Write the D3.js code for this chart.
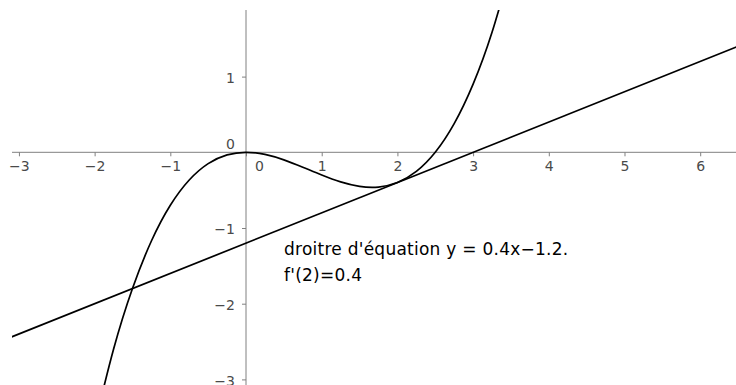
<!DOCTYPE html>
<html>
<head>
<meta charset="utf-8">
<script src="https://cdn.jsdelivr.net/npm/d3@7"></script>
<style>
  html, body { margin: 0; padding: 0; background: #fff; }
  svg { display: block; font-family: "DejaVu Sans", sans-serif; }
</style>
</head>
<body>
<div id="chart"></div>
<script>
// taille de la figure
const width = 736;
const height = 385;

// ── données ──
// courbe de f
const curveX = [-2, -1.75, -1.5, -1.25, -1, -0.75, -0.5, -0.25, 0, 0.25, 0.5, 0.75,
                1, 1.25, 1.5, 1.75, 2, 2.25, 2.5, 2.75, 3, 3.25, 3.5];
const curveY = [-3.6, -2.603, -1.8, -1.172, -0.7, -0.366, -0.15, -0.034, 0, -0.028, -0.1, -0.197,
                -0.3, -0.391, -0.45, -0.459, -0.4, -0.253, 0, 0.378, 0.9, 1.585, 2.45];
// tangente en x = 2
const tangentX = [-3.4, 6.6];
const tangentY = [-2.56, 1.44];
// graduations
const xTicks = [-3, -2, -1, 0, 1, 2, 3, 4, 5, 6];
const yTicks = [-3, -2, -1, 0, 1];
// textes
const labelLines = ["droitre d'équation y = 0.4x\u22121.2.", "f'(2)=0.4"];

const svg = d3.select("#chart")
  .append("svg")
  .attr("width", width)
  .attr("height", height);

// échelles (même unité sur les deux axes)
const x = d3.scaleLinear().domain([-3.25, 6.473]).range([0, width]);
const y = d3.scaleLinear().domain([2.012, -3.074]).range([0, height]);

const plotLeft = 12, plotTop = 10;

svg.append("clipPath").attr("id", "plot")
  .append("rect")
  .attr("x", plotLeft).attr("y", plotTop)
  .attr("width", width - plotLeft).attr("height", height - plotTop);

// ──────────── axes ─────────────
const axisColor = "#808080";
const labelColor = "#4a4a4a";

svg.append("line")
  .attr("x1", plotLeft).attr("x2", width)
  .attr("y1", y(0)).attr("y2", y(0))
  .attr("stroke", axisColor);

svg.append("line")
  .attr("x1", x(0)).attr("x2", x(0))
  .attr("y1", plotTop).attr("y2", height)
  .attr("stroke", axisColor);

const fmt = d3.format("d");

const gx = svg.append("g")
  .attr("transform", `translate(0,${y(0)})`)
  .call(d3.axisBottom(x).tickValues(xTicks).tickSize(4).tickSizeOuter(0).tickFormat(fmt));
gx.select(".domain").remove();
gx.selectAll(".tick line").attr("stroke", axisColor);
gx.selectAll(".tick text")
  .attr("fill", labelColor)
  .attr("font-size", 14)
  .attr("font-family", "DejaVu Sans")
  .attr("y", 9)
  .attr("dx", d => d === 0 ? 13 : 0);

const gy = svg.append("g")
  .attr("transform", `translate(${x(0)},0)`)
  .call(d3.axisLeft(y).tickValues(yTicks).tickSize(4).tickSizeOuter(0).tickFormat(fmt));
gy.select(".domain").remove();
gy.selectAll(".tick line").attr("stroke", axisColor);
gy.selectAll(".tick line").filter(d => d === 0).remove();
gy.selectAll(".tick text")
  .attr("fill", labelColor)
  .attr("font-size", 14)
  .attr("font-family", "DejaVu Sans")
  .attr("x", -11)
  .attr("dy", d => d === 0 ? "-0.25em" : "0.4em");

// ──────────── courbes ─────────────
const plot = svg.append("g").attr("clip-path", "url(#plot)");

const curvePts = curveX.map((v, i) => [v, curveY[i]]);
const tangentPts = tangentX.map((v, i) => [v, tangentY[i]]);

const lineGen = d3.line()
  .x(d => x(d[0]))
  .y(d => y(d[1]));

plot.append("path")
  .datum(tangentPts)
  .attr("d", lineGen)
  .attr("fill", "none")
  .attr("stroke", "#000")
  .attr("stroke-width", 1.7);

plot.append("path")
  .datum(curvePts)
  .attr("d", lineGen.curve(d3.curveNatural))
  .attr("fill", "none")
  .attr("stroke", "#000")
  .attr("stroke-width", 1.7);

// ──────────── texte ─────────────
svg.append("text")
  .attr("x", 284)
  .attr("y", 255)
  .attr("font-size", 17)
  .attr("letter-spacing", 0.25)
  .attr("fill", "#000")
  .selectAll("tspan")
  .data(labelLines)
  .join("tspan")
  .attr("x", 284)
  .attr("dy", (d, i) => i === 0 ? 0 : 26)
  .text(d => d);
</script>
</body>
</html>
